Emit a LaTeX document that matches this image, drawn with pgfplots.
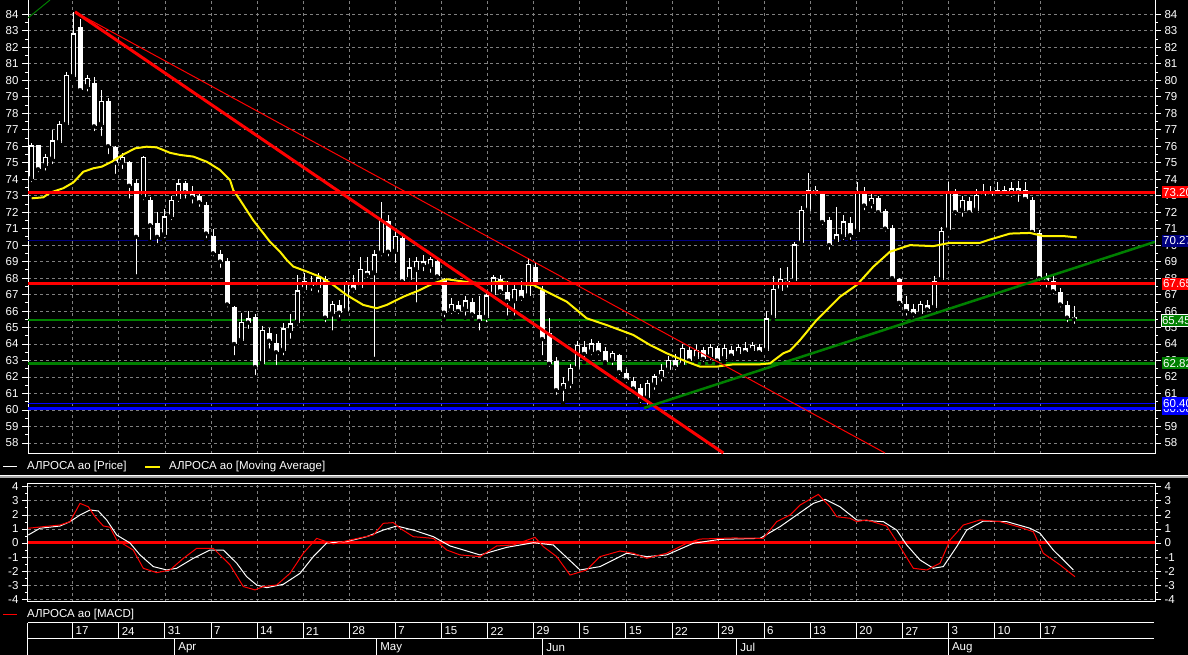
\documentclass[border=0pt]{standalone}
\usepackage{fontspec}
\setmainfont{Liberation Sans}
\usepackage{pgfplots}
\pgfplotsset{compat=1.18}
\usepackage{pgfplotstable}

\definecolor{gridgray}{RGB}{128,128,128}
\definecolor{mygreen}{RGB}{0,128,0}
\definecolor{navy}{RGB}{0,0,128}
\definecolor{pblue}{RGB}{0,0,255}

% candle index i, open, high, low, close
\pgfplotstableread{
i o h l c
0 74.0 76.2 73.7 76.0
1 76.0 76.1 74.3 74.6
2 74.8 75.5 74.4 75.3
3 75.2 77.0 74.8 76.3
4 76.2 77.5 76.0 77.3
5 77.3 80.5 77.1 80.3
6 80.2 84.15 80.0 82.8
7 83.2 83.7 79.3 79.4
8 79.6 80.3 79.2 80.1
9 79.8 80.2 76.8 77.2
10 77.3 79.4 76.5 78.7
11 78.7 78.9 75.4 76.0
12 75.9 76.0 74.2 75.0
13 75.0 75.6 74.5 75.3
14 75.0 75.1 72.7 73.6
15 73.7 74.0 68.1 70.5
16 72.9 75.4 72.6 75.3
17 72.7 72.9 70.2 71.2
18 71.3 72.0 70.0 70.5
19 70.6 72.2 70.3 71.7
20 71.7 73.0 71.4 72.7
21 72.8 74.0 72.5 73.7
22 73.7 73.9 72.7 73.2
23 73.2 73.6 72.4 72.9
24 72.9 73.3 72.2 72.6
25 72.4 72.6 70.3 70.7
26 70.5 71.0 69.2 69.5
27 69.4 69.7 68.5 69.0
28 69.0 69.2 66.1 66.4
29 66.2 66.3 63.2 64.0
30 64.2 65.9 64.0 65.3
31 65.3 66.0 64.8 65.5
32 65.6 65.8 62.0 62.6
33 62.8 65.1 62.6 64.8
34 64.6 65.0 63.6 64.2
35 64.0 64.6 62.6 63.5
36 63.6 65.3 63.2 64.9
37 64.8 65.8 64.2 65.2
38 65.3 68.2 65.0 67.2
39 67.3 68.3 67.0 67.8
40 67.7 68.1 67.1 67.5
41 67.4 68.3 67.0 68.0
42 67.9 68.1 65.2 65.6
43 65.8 66.6 64.7 66.4
44 66.3 66.7 65.5 65.9
45 66.0 67.8 65.8 67.6
46 67.6 68.2 67.0 67.3
47 67.4 69.3 67.2 68.5
48 68.4 69.3 67.9 68.2
49 68.3 69.7 63.1 69.4
50 69.5 72.6 69.2 71.5
51 71.4 71.8 69.2 69.6
52 69.6 70.9 68.8 70.5
53 70.4 70.7 67.6 67.8
54 67.9 69.2 67.5 68.6
55 68.5 69.3 66.4 69.0
56 69.0 69.4 68.3 68.8
57 68.7 69.3 68.2 69.1
58 69.0 69.2 67.8 68.1
59 67.9 68.0 65.5 65.9
60 66.0 66.8 65.7 66.4
61 66.3 66.6 65.7 66.0
62 66.1 66.9 65.6 66.6
63 66.5 66.8 65.5 65.8
64 65.7 66.9 64.7 65.4
65 65.6 67.1 65.2 66.9
66 67.0 68.2 66.8 68.0
67 67.9 68.2 66.9 67.2
68 67.1 67.8 65.6 66.6
69 66.6 67.6 65.6 67.3
70 67.2 67.8 66.5 66.8
71 66.9 69.2 66.7 68.8
72 68.6 69.0 67.3 67.6
73 67.2 67.5 63.2 64.3
74 64.6 65.6 62.5 62.8
75 62.9 63.2 60.8 61.2
76 61.3 62.0 60.4 61.6
77 61.6 62.8 61.2 62.5
78 62.5 64.2 62.3 63.9
79 63.8 64.2 62.9 63.4
80 63.5 64.3 63.2 64.0
81 64.0 64.2 63.2 63.5
82 63.5 63.8 62.7 62.9
83 63.0 63.6 62.6 63.4
84 63.3 63.4 62.0 62.3
85 62.2 62.5 61.5 61.8
86 61.7 62.0 60.9 61.3
87 61.3 61.6 60.3 60.6
88 60.7 61.8 60.2 61.6
89 61.5 62.2 61.1 62.0
90 62.0 62.8 61.6 62.4
91 62.4 63.3 62.1 63.0
92 63.0 63.4 62.3 62.6
93 62.7 64.0 62.5 63.7
94 63.6 63.9 62.8 63.0
95 63.1 64.0 62.9 63.6
96 63.6 63.8 62.8 63.1
97 63.2 64.0 62.9 63.8
98 63.7 63.9 62.8 63.0
99 63.1 64.0 62.9 63.7
100 63.6 63.9 63.1 63.3
101 63.4 64.0 63.2 63.8
102 63.7 64.1 63.3 63.5
103 63.6 64.1 63.4 63.9
104 63.8 64.0 63.3 63.5
105 63.6 66.0 63.5 65.5
106 65.6 68.1 65.4 67.3
107 67.2 68.6 67.0 67.9
108 67.8 68.7 67.3 67.7
109 67.8 70.2 67.6 70.0
110 70.1 72.4 69.9 72.1
111 72.1 74.4 71.9 73.3
112 73.3 73.6 72.9 73.2
113 73.1 73.2 71.1 71.4
114 71.5 71.7 69.6 70.0
115 70.2 72.3 70.0 70.6
116 70.5 71.8 70.2 71.4
117 71.3 71.7 70.2 70.6
118 70.8 73.8 70.6 73.2
119 73.1 73.5 72.0 72.4
120 72.5 73.2 72.1 72.8
121 72.8 73.0 71.8 72.0
122 72.0 72.2 70.7 71.0
123 71.0 71.2 67.8 68.0
124 67.9 68.0 66.2 66.5
125 66.4 66.9 65.6 66.0
126 66.1 66.4 65.5 65.8
127 65.8 66.6 65.6 66.4
128 66.3 66.7 65.8 66.1
129 66.2 68.1 66.0 67.8
130 67.9 71.1 67.7 70.8
131 70.9 73.8 70.7 73.2
132 73.1 73.4 71.7 72.0
133 72.1 73.0 71.6 72.7
134 72.6 72.9 71.8 72.0
135 72.1 73.4 71.9 73.0
136 73.0 73.7 72.8 73.2
137 73.2 73.6 72.9 73.0
138 73.1 73.8 72.9 73.3
139 73.3 73.6 72.9 73.1
140 73.1 73.8 72.8 73.4
141 73.4 73.9 72.5 73.2
142 73.3 73.8 72.6 72.8
143 72.7 72.9 70.6 70.8
144 70.7 70.9 67.7 68.0
145 68.0 68.3 67.3 67.8
146 67.8 68.1 66.9 67.2
147 67.1 67.4 66.1 66.4
148 66.3 66.6 65.2 65.6
149 65.6 66.3 65.1 65.5
}\candles

\pgfplotsset{
  chartaxis/.style={
    scale only axis, width=1127pt,
    xmin=-0.43, xmax=160.57,
    axis line style={white, line width=1pt},
    tick style={white, line width=0.8pt},
    tick align=outside,
    major tick length=6pt, minor tick length=3pt,
    ticklabel style={white, font=\fontsize{11.5}{12}\selectfont},
    /pgf/number format/assume math mode=true,
    xtick={5.96,12.54,19.13,25.72,32.30,38.89,45.47,52.06,58.65,65.23,71.82,78.40,84.99,91.58,98.16,104.75,111.33,117.92,124.51,131.09,137.68,144.26},
    xmajorticks=false,
    major grid style={gridgray, dash pattern=on 3pt off 3pt, line width=0.8pt},
    clip mode=individual,
  }
}

\begin{document}
\begin{tikzpicture}
\fill[black] (0,0) rectangle (1188pt,655pt);
\useasboundingbox (0,0) rectangle (1188pt,655pt);

% ---------- main price panel ----------
\begin{axis}[chartaxis, at={(28pt,201pt)}, anchor=south west, height=454pt,
  ymin=57.33, ymax=84.87, ytick={58,...,84}, minor y tick num=1,
  ytick pos=left, yticklabel pos=left, xmajorgrids=true, ymajorgrids=true]
% horizontal levels
\addplot[navy, line width=1pt] coordinates {(-0.43,70.27) (160.57,70.27)};
\addplot[mygreen, line width=1.5pt] coordinates {(-0.43,65.45) (160.57,65.45)};
\addplot[mygreen, line width=3pt] coordinates {(-0.43,62.82) (160.57,62.82)};
\addplot[pblue, line width=1pt] coordinates {(-0.43,60.40) (160.57,60.40)};
\addplot[pblue, line width=3pt] coordinates {(-0.43,60.08) (160.57,60.08)};
% candles: wicks
\addplot[only marks, mark=none, error bars/.cd, y dir=plus, y explicit, error mark=none,
  error bar style={white, line width=1pt}]
  table[x=i, y=l, y error plus expr=\thisrow{h}-\thisrow{l}] {\candles};
% candles: bodies
\addplot[only marks, mark=none, error bars/.cd, y dir=plus, y explicit, error mark=none,
  error bar style={white, line width=5pt}]
  table[x=i, y expr={min(\thisrow{o},\thisrow{c})}, y error plus expr={abs(\thisrow{c}-\thisrow{o})+0.05}] {\candles};
% hollow up candles
\addplot[only marks, mark=none, restrict expr to domain={\thisrow{c}-\thisrow{o}}{0.25:100},
  error bars/.cd, y dir=plus, y explicit, error mark=none,
  error bar style={black, line width=3pt}]
  table[x=i, y expr={\thisrow{o}+0.07}, y error plus expr={\thisrow{c}-\thisrow{o}-0.1}] {\candles};
% moving average
\addplot[yellow, line width=2pt] coordinates {
(0.1,72.84)(1.76,72.9)(2.71,73.18)(4.61,73.45)(6.04,73.8)(7.47,74.45)(8.9,74.66)(10.1,74.76)
(11.53,75.06)(13.19,75.5)(14.86,75.87)(16.53,75.97)(17.96,75.93)(19.86,75.6)(21.29,75.47)
(23.19,75.37)(25.1,75.06)(27.0,74.56)(28.43,73.95)(28.9,73.33)(29.86,72.74)(31.76,71.5)
(34.14,70.2)(35.57,69.6)(36.53,69.1)(37.47,68.7)(39.39,68.4)(41.29,68.08)(43.19,67.58)
(45.1,66.97)(47.47,66.37)(49.39,66.17)(50.81,66.37)(53.19,66.87)(55.57,67.28)(57.47,67.68)
(59.39,67.93)(61.29,67.82)(62.71,67.74)(65.1,67.68)(67.0,67.78)(68.86,67.68)(71.76,67.58)
(74.14,67.08)(76.53,66.57)(79.39,65.56)(82.24,65.15)(86.04,64.55)(88.43,63.94)(90.81,63.44)
(93.67,62.93)(95.57,62.63)(97.96,62.63)(100.33,62.77)(104.14,62.77)(105.57,62.83)
(107.47,63.44)(108.43,63.6)(109.86,64.24)(112.24,65.46)(115.57,66.87)(117.96,67.58)
(120.33,68.69)(122.71,69.6)(125.57,70.0)(128.9,69.94)(131.29,70.14)(135.57,70.14)
(137.0,70.34)(139.86,70.7)(142.71,70.74)(144.61,70.55)(147.47,70.55)(149.39,70.47)};
% red resistance levels
\addplot[red, line width=3pt] coordinates {(-0.43,73.20) (160.57,73.20)};
\addplot[red, line width=3pt] coordinates {(-0.43,67.65) (160.57,67.65)};
% trend lines
\addplot[red, line width=1pt] coordinates {(6.29,84.15) (122.0,57.39)};
\addplot[red, line width=3pt] coordinates {(6.29,84.15) (98.9,57.39)};
\addplot[mygreen, line width=2.5pt] coordinates {(87.57,60.12) (160.57,70.2)};
\addplot[mygreen, line width=1pt] coordinates {(-0.43,83.78) (2.71,84.87)};
\end{axis}

% right-hand labels of the price panel
\begin{axis}[chartaxis, at={(28pt,201pt)}, anchor=south west, height=454pt,
  ymin=57.33, ymax=84.87, ytick={58,...,84}, minor y tick num=1,
  ytick pos=right, yticklabel pos=right, axis line style={draw=none}]
\addplot[draw=none] coordinates {(0,70)};
\tikzset{lab/.style={anchor=west, text=white, inner sep=1pt, minimum height=12pt,
  font=\fontsize{11.5}{12}\selectfont}}
\node[lab, fill=pblue] at (axis cs:160.57,60.08) [xshift=7pt] {60.08};
\node[lab, fill=pblue] at (axis cs:160.57,60.40) [xshift=7pt] {60.40};
\node[lab, fill=mygreen] at (axis cs:160.57,62.82) [xshift=7pt] {62.82};
\node[lab, fill=mygreen, draw=white, line width=1pt] at (axis cs:160.57,65.45) [xshift=5.5pt] {65.45};
\node[lab, fill=red] at (axis cs:160.57,67.65) [xshift=7pt] {67.65};
\node[lab, fill=navy] at (axis cs:160.57,70.27) [xshift=7pt] {70.27};
\node[lab, fill=red] at (axis cs:160.57,73.20) [xshift=7pt] {73.20};
\end{axis}

% ---------- MACD panel ----------
\begin{axis}[chartaxis, at={(28pt,53pt)}, anchor=south west, height=118pt,
  ymin=-4.2, ymax=4.2, ytick={-4,...,4}, yticklabels={-4,-3,-2,-1,0,1,2,3,4},
  minor y tick num=1, ytick pos=left, yticklabel pos=left,
  xmajorgrids=true, ymajorgrids=true]
\addplot[red, line width=3pt] coordinates {(-0.43,0) (160.57,0)};
\addplot[white, line width=1pt] coordinates {
(-0.39,0.57)(1.29,1.05)(4.14,1.21)(5.57,1.52)(7.0,1.99)(8.43,2.35)(9.61,2.28)(10.81,1.64)
(12.24,0.57)(14.14,0)(15.57,-0.85)(17.47,-1.68)(19.39,-1.92)(20.81,-1.8)(23.19,-1.09)
(25.57,-0.5)(27.47,-0.5)(29.39,-1.44)(30.81,-2.4)(32.24,-2.99)(33.67,-3.18)(36.04,-2.94)
(38.43,-2.16)(40.33,-0.97)(42.24,0)(45.1,0.1)(47.96,0.45)(50.33,0.92)(52.24,1.21)
(54.61,0.92)(57.47,0.45)(59.86,-0.21)(64.14,-0.85)(67.96,-0.31)(71.76,0.02)(74.61,-0.14)
(78.43,-1.92)(81.29,-1.68)(85.1,-0.73)(87.96,-0.97)(90.81,-0.85)(94.61,-0.02)(98.43,0.26)
(104.14,0.33)(107.0,1.16)(109.86,2.16)(111.76,2.82)(113.43,3.11)(115.57,2.58)(117.96,1.64)
(121.76,1.52)(123.67,0.92)(125.1,-0.14)(127.0,-1.21)(128.9,-1.8)(130.33,-1.68)(132.24,-0.26)
(133.67,0.92)(136.04,1.56)(139.39,1.52)(142.71,1.05)(144.14,0.69)(146.04,-0.5)(148.9,-1.92)};
\addplot[red, line width=1pt] coordinates {
(-0.39,1.05)(2.71,1.21)(4.14,1.28)(5.57,1.52)(7.0,2.82)(8.19,2.58)(9.14,1.87)(10.33,1.21)
(11.29,1.12)(12.24,0.21)(14.61,-0.5)(16.04,-1.8)(17.96,-2.11)(19.86,-1.92)(21.76,-1.09)
(23.67,-0.38)(26.04,-0.38)(28.43,-1.56)(30.33,-3.1)(32.0,-3.34)(33.19,-3.1)(35.1,-2.99)
(37.0,-2.16)(38.9,-0.73)(40.81,0.33)(43.19,-0.07)(45.57,0.21)(48.9,0.57)(50.33,1.4)
(51.76,1.45)(52.71,1.05)(54.61,0.45)(57.47,0.33)(59.39,-0.5)(61.29,-0.85)(64.14,-0.97)
(66.53,-0.21)(68.9,-0.14)(72.0,0.4)(73.19,-0.26)(75.1,-0.97)(77.0,-2.28)(79.39,-1.92)
(81.29,-0.97)(84.14,-0.57)(86.04,-0.73)(87.96,-1.09)(90.81,-0.73)(93.67,-0.02)(95.57,0.28)
(100.33,0.36)(104.61,0.33)(106.53,1.52)(108.43,1.99)(109.86,2.7)(112.47,3.46)(114.14,2.58)
(115.1,1.87)(117.0,1.76)(117.96,1.52)(119.39,1.64)(122.24,1.21)(124.14,-0.26)(126.04,-1.8)
(127.96,-1.92)(129.86,-1.44)(131.29,0.21)(133.19,1.28)(135.57,1.64)(138.43,1.52)
(141.29,1.12)(143.19,0.8)(144.61,-0.73)(147.0,-1.56)(149.14,-2.4)};
\end{axis}
\begin{axis}[chartaxis, at={(28pt,53pt)}, anchor=south west, height=118pt,
  ymin=-4.2, ymax=4.2, ytick={-4,...,4}, yticklabels={-4,-3,-2,-1,0,1,2,3,4},
  minor y tick num=1, ytick pos=right, yticklabel pos=right, axis line style={draw=none}]
\addplot[draw=none] coordinates {(0,0)};
\end{axis}

% ---------- decorations in image pixel coordinates ----------
\begin{scope}[x=1pt, y=-1pt, shift={(0pt,655pt)}, font=\fontsize{11.5}{12}\selectfont]
% legends
\draw[white, line width=1pt] (3,467) -- (17,467);
\node[anchor=west, text=white, inner sep=0pt] at (27,467) {АЛРОСА ao [Price]};
\draw[yellow, line width=2pt] (145,467) -- (160,467);
\node[anchor=west, text=white, inner sep=0pt] at (169,467) {АЛРОСА ao [Moving Average]};
\fill[gray!70] (0,475) rectangle (1188,478);
\draw[white, line width=0.8pt] (0,475) -- (1188,475);
\draw[red, line width=1pt] (3,615) -- (17,615);
\node[anchor=west, text=white, inner sep=0pt] at (27,615) {АЛРОСА ao [MACD]};
% date table
\draw[white, line width=1pt] (27.5,623) -- (1154,623);
\draw[white, line width=1pt] (27.5,639) -- (1154,639);
\draw[white, line width=1pt] (27.5,623) -- (27.5,655);
\foreach \k/\d in {0/17,1/24,2/31,3/7,4/14,5/21,6/28,7/7,8/15,9/22,10/29,11/5,12/15,13/22,14/29,15/6,16/13,17/20,18/27,19/3,20/10,21/17}{
  \draw[white, line width=1pt] ({72.7+46.1*\k},623) -- ({72.7+46.1*\k},639);
  \node[anchor=west, text=white, inner sep=0pt] at ({75.5+46.1*\k},631) {\d};
}
\foreach \x/\m in {174.7/Apr,376.7/May,542.7/Jun,736.7/Jul,948.3/Aug}{
  \draw[white, line width=1pt] (\x,639) -- (\x,655);
  \node[anchor=west, text=white, inner sep=0pt] at (\x+3.5,647.5) {\m};
}
\end{scope}
\end{tikzpicture}
\end{document}
